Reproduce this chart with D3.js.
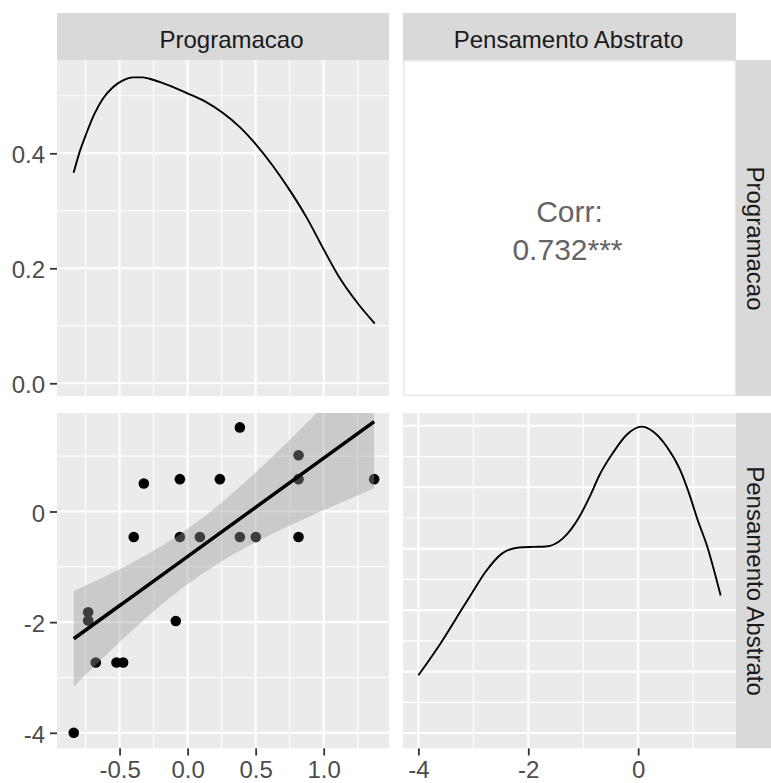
<!DOCTYPE html>
<html><head><meta charset="utf-8">
<script src="https://cdn.jsdelivr.net/npm/d3@7"></script>
<style>
body{margin:0;background:#fff}
svg{display:block;font-family:"Liberation Sans",Arial,sans-serif}
</style>
</head><body>
<svg id="chart" width="771" height="783"></svg>
<script>
// ---------------- data ----------------
const varNames = ["Programacao", "Pensamento Abstrato"];

// scatter: x = Programacao, y = Pensamento Abstrato
const progValues = [-0.837, -0.731, -0.731, -0.675, -0.523, -0.474, -0.396, -0.322, -0.057, -0.057,
                    -0.087, 0.090, 0.237, 0.384, 0.384, 0.501, 0.815, 0.815, 0.815, 1.371];
const abstValues = [-4.00, -1.82, -1.97, -2.73, -2.73, -2.73, -0.46, 0.505, 0.584, -0.46,
                    -1.98, -0.46, 0.584, 1.52, -0.46, -0.46, 1.016, 0.584, -0.46, 0.584];

// density of Programacao (diagonal, top-left)
const progDensX = [-0.838, -0.794, -0.745, -0.684, -0.623, -0.549, -0.475, -0.402, -0.329, -0.255,
                   -0.157, 0.002, 0.137, 0.255, 0.382, 0.5, 0.627, 0.75, 0.873, 1.002, 1.118, 1.257, 1.375];
const progDensY = [0.366, 0.402, 0.434, 0.469, 0.495, 0.515, 0.527, 0.532, 0.532, 0.528,
                   0.520, 0.504, 0.489, 0.471, 0.446, 0.416, 0.378, 0.336, 0.289, 0.232, 0.183, 0.137, 0.104];

// density of Pensamento Abstrato (diagonal, bottom-right)
const abstDensX = [-4.0, -3.64, -3.33, -3.01, -2.78, -2.48, -2.17, -1.9, -1.68, -1.38, -1.07, -0.886,
                   -0.703, -0.459, -0.213, 0.062, 0.275, 0.521, 0.765, 0.949, 1.07, 1.255, 1.5];
const abstDensY = [0.047, 0.070, 0.092, 0.115, 0.131, 0.146, 0.151, 0.1515, 0.1518, 0.158, 0.176, 0.192,
                   0.210, 0.228, 0.2425, 0.2493, 0.2452, 0.233, 0.214, 0.192, 0.175, 0.152, 0.112];

const corrLabel = "Corr:";
const corrValue = "0.732***";
const tCrit = 2.101; // t(0.975, df = 18)

// axes / ticks
const progDomain = [-0.96, 1.48];
const progMajor = [-0.5, 0, 0.5, 1.0];
const progTickLabels = ["-0.5", "0.0", "0.5", "1.0"];
const progMinor = [-0.75, -0.25, 0.25, 0.75, 1.25];

const densTopDomain = [-0.0221, 0.5623];
const densTopMajor = [0, 0.2, 0.4];
const densTopLabels = ["0.0", "0.2", "0.4"];
const densTopMinor = [0.1, 0.3, 0.5];

const abstDomain = [-4.28, 1.78];
const abstMajor = [-4, -2, 0];
const abstTickLabels = ["-4", "-2", "0"];
const abstMinor = [-3, -1, 1];

const densBotDomain = [-0.0124, 0.2604];
const densBotMajor = [0, 0.05, 0.1, 0.15, 0.2, 0.25];
const densBotMinor = [0.025, 0.075, 0.125, 0.175, 0.225];

// ---------------- layout ----------------
const col = [[57, 389], [403, 736]];
const row = [[60, 396], [413, 748.3]];
const stripTop = [13, 60];
const stripRight = [736, 783];
const FS = 24;

const svg = d3.select("#chart");
const defs = svg.append("defs");

const xProg = d3.scaleLinear().domain(progDomain).range(col[0]);
const xAbst = d3.scaleLinear().domain(abstDomain).range(col[1]);
const yDensTop = d3.scaleLinear().domain(densTopDomain).range([row[0][1], row[0][0]]);
const yAbst = d3.scaleLinear().domain(abstDomain).range([row[1][1], row[1][0]]);
const yDensBot = d3.scaleLinear().domain(densBotDomain).range([row[1][1], row[1][0]]);

function panel(id, xr, yr, xMaj, xMin, yMaj, yMin, xs, ys) {
  const g = svg.append("g");
  g.append("rect").attr("x", xr[0]).attr("y", yr[0])
    .attr("width", xr[1] - xr[0]).attr("height", yr[1] - yr[0]).attr("fill", "#EBEBEB");
  defs.append("clipPath").attr("id", id).append("rect")
    .attr("x", xr[0]).attr("y", yr[0]).attr("width", xr[1] - xr[0]).attr("height", yr[1] - yr[0]);
  const grid = g.append("g").attr("stroke", "#FFFFFF");
  grid.selectAll(".vmin").data(xMin).join("line")
    .attr("x1", d => xs(d)).attr("x2", d => xs(d)).attr("y1", yr[0]).attr("y2", yr[1]).attr("stroke-width", 1.1);
  grid.selectAll(".hmin").data(yMin).join("line")
    .attr("y1", d => ys(d)).attr("y2", d => ys(d)).attr("x1", xr[0]).attr("x2", xr[1]).attr("stroke-width", 1.1);
  grid.selectAll(".vmaj").data(xMaj).join("line")
    .attr("x1", d => xs(d)).attr("x2", d => xs(d)).attr("y1", yr[0]).attr("y2", yr[1]).attr("stroke-width", 2.1);
  grid.selectAll(".hmaj").data(yMaj).join("line")
    .attr("y1", d => ys(d)).attr("y2", d => ys(d)).attr("x1", xr[0]).attr("x2", xr[1]).attr("stroke-width", 2.1);
  return g.append("g").attr("clip-path", `url(#${id})`);
}

// top-left: density of Programacao
const p11 = panel("c11", col[0], row[0], progMajor, progMinor, densTopMajor, densTopMinor, xProg, yDensTop);
p11.append("path")
  .datum(progDensX.map((x, i) => [x, progDensY[i]]))
  .attr("fill", "none").attr("stroke", "#000").attr("stroke-width", 1.9)
  .attr("d", d3.line().x(d => xProg(d[0])).y(d => yDensTop(d[1])).curve(d3.curveMonotoneX));

// top-right: correlation
svg.append("rect").attr("x", col[1][0] + 0.75).attr("y", row[0][0] + 0.75)
  .attr("width", col[1][1] - col[1][0] - 1.5).attr("height", row[0][1] - row[0][0] - 1.5)
  .attr("fill", "#FFFFFF").attr("stroke", "#E8E8E8").attr("stroke-width", 1.5);
const cx = (col[1][0] + col[1][1]) / 2;
svg.append("text").attr("x", cx).attr("y", 221.7).attr("text-anchor", "middle")
  .attr("font-size", 30).attr("fill", "#656565").text(corrLabel);
svg.append("text").attr("x", cx - 2).attr("y", 260).attr("text-anchor", "middle")
  .attr("font-size", 30).attr("fill", "#656565").text(corrValue);

// bottom-left: scatter + lm smooth
const p21 = panel("c21", col[0], row[1], progMajor, progMinor, abstMajor, abstMinor, xProg, yAbst);
const pts = progValues.map((x, i) => [x, abstValues[i]]);
p21.selectAll("circle").data(pts).join("circle")
  .attr("cx", d => xProg(d[0])).attr("cy", d => yAbst(d[1])).attr("r", 5.3).attr("fill", "#000");

const n = pts.length;
const mx = d3.mean(progValues), my = d3.mean(abstValues);
const sxx = d3.sum(progValues, x => (x - mx) ** 2);
const sxy = d3.sum(pts, d => (d[0] - mx) * (d[1] - my));
const slope = sxy / sxx, icpt = my - slope * mx;
const sse = d3.sum(pts, d => (d[1] - (icpt + slope * d[0])) ** 2);
const sigma = Math.sqrt(sse / (n - 2));
const [xmin, xmax] = d3.extent(progValues);
const fit = d3.range(80).map(i => {
  const x = xmin + (xmax - xmin) * i / 79;
  const yh = icpt + slope * x;
  const se = sigma * Math.sqrt(1 / n + (x - mx) ** 2 / sxx);
  return { x, y: yh, lo: yh - tCrit * se, hi: yh + tCrit * se };
});
p21.append("path").datum(fit).attr("fill", "#999999").attr("fill-opacity", 0.4)
  .attr("d", d3.area().x(d => xProg(d.x)).y0(d => yAbst(d.lo)).y1(d => yAbst(d.hi)));
p21.append("path").datum(fit).attr("fill", "none").attr("stroke", "#000").attr("stroke-width", 3.6)
  .attr("d", d3.line().x(d => xProg(d.x)).y(d => yAbst(d.y)));

// bottom-right: density of Pensamento Abstrato
const p22 = panel("c22", col[1], row[1], abstMajor, abstMinor, densBotMajor, densBotMinor, xAbst, yDensBot);
p22.append("path")
  .datum(abstDensX.map((x, i) => [x, abstDensY[i]]))
  .attr("fill", "none").attr("stroke", "#000").attr("stroke-width", 1.9)
  .attr("d", d3.line().x(d => xAbst(d[0])).y(d => yDensBot(d[1])).curve(d3.curveMonotoneX));

// strips
const stripG = svg.append("g");
col.forEach((c, i) => {
  stripG.append("rect").attr("x", c[0]).attr("y", stripTop[0]).attr("width", c[1] - c[0])
    .attr("height", stripTop[1] - stripTop[0]).attr("fill", "#D9D9D9");
});
stripG.append("text").attr("x", 231.5).attr("y", 48).attr("text-anchor", "middle")
  .attr("font-size", FS).attr("fill", "#1A1A1A").text(varNames[0]);
stripG.append("text").attr("x", 568.5).attr("y", 48).attr("text-anchor", "middle")
  .attr("font-size", FS).attr("fill", "#1A1A1A").text(varNames[1]);
row.forEach((r, i) => {
  stripG.append("rect").attr("x", stripRight[0]).attr("y", r[0]).attr("width", stripRight[1] - stripRight[0])
    .attr("height", r[1] - r[0]).attr("fill", "#D9D9D9");
});
[[238.5, varNames[0]], [581, varNames[1]]].forEach(([cy, t]) => {
  stripG.append("text").attr("transform", `translate(746.5,${cy}) rotate(90)`)
    .attr("text-anchor", "middle").attr("font-size", FS).attr("fill", "#1A1A1A").text(t);
});

// axes
function styleAxis(g) {
  g.select(".domain").remove();
  g.selectAll(".tick line").attr("stroke", "#333333").attr("stroke-width", 1.8);
  g.selectAll(".tick text").attr("fill", "#4D4D4D").attr("font-size", FS)
    .attr("font-family", '"Liberation Sans",Arial,sans-serif');
}
svg.append("g").attr("transform", `translate(0,${row[1][1]})`)
  .call(d3.axisBottom(xProg).tickValues(progMajor).tickFormat((d, i) => progTickLabels[i]).tickSize(7.2).tickPadding(5.5))
  .call(styleAxis);
svg.append("g").attr("transform", `translate(0,${row[1][1]})`)
  .call(d3.axisBottom(xAbst).tickValues(abstMajor).tickFormat((d, i) => abstTickLabels[i]).tickSize(7.2).tickPadding(5.5))
  .call(styleAxis);
svg.append("g").attr("transform", `translate(${col[0][0]},0)`)
  .call(d3.axisLeft(yDensTop).tickValues(densTopMajor).tickFormat((d, i) => densTopLabels[i]).tickSize(7).tickPadding(5))
  .call(styleAxis)
  .call(g => g.selectAll(".tick text").attr("dy", "0.4em"));
svg.append("g").attr("transform", `translate(${col[0][0]},0)`)
  .call(d3.axisLeft(yAbst).tickValues(abstMajor).tickFormat((d, i) => abstTickLabels[i]).tickSize(7).tickPadding(5))
  .call(styleAxis)
  .call(g => g.selectAll(".tick text").attr("dy", "0.4em"));
</script>
</body></html>
